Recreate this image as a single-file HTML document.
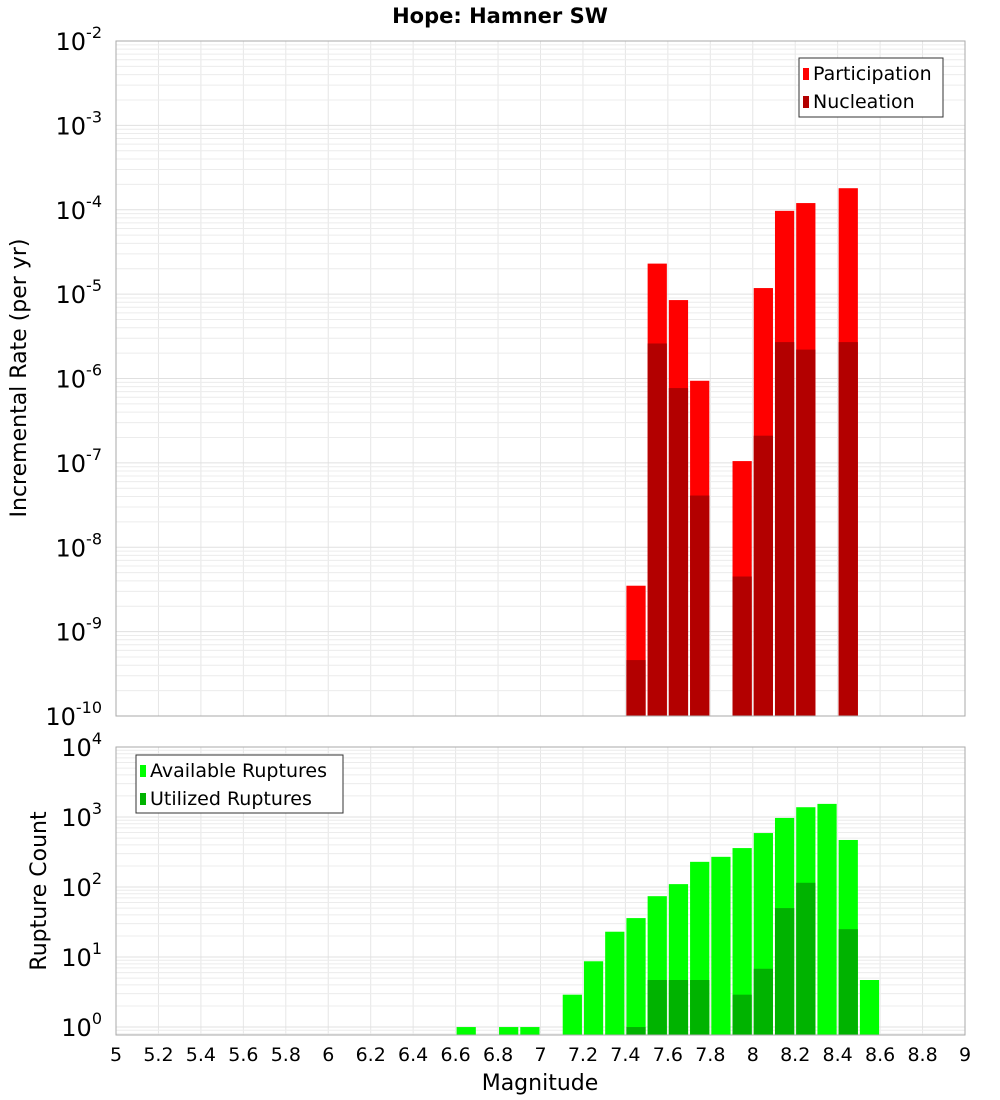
<!DOCTYPE html>
<html><head><meta charset="utf-8"><style>
body{margin:0;background:#fff;}
svg{display:block;font-family:"DejaVu Sans","Liberation Sans",sans-serif;}
</style></head><body>
<svg id="c" width="1000" height="1100" xmlns="http://www.w3.org/2000/svg">
<text x="500" y="23" text-anchor="middle" font-size="21" font-weight="bold">Hope: Hamner SW</text>
<g id="topPanel"></g>
<g id="botPanel"></g>
<text x="540" y="1090" text-anchor="middle" font-size="22">Magnitude</text>
<text transform="translate(26,378) rotate(-90)" text-anchor="middle" font-size="22">Incremental Rate (per yr)</text>
<text transform="translate(46,891) rotate(-90)" text-anchor="middle" font-size="22">Rupture Count</text>
</svg>
<script>
const xTicks=[5,5.2,5.4,5.6,5.8,6,6.2,6.4,6.6,6.8,7,7.2,7.4,7.6,7.8,8,8.2,8.4,8.6,8.8,9];
const rateMags=[7.45,7.55,7.65,7.75,7.95,8.05,8.15,8.25,8.45];
const participation=[3.5e-9,2.3e-5,8.5e-6,9.4e-7,1.05e-7,1.18e-5,9.7e-5,1.2e-4,1.8e-4];
const nucleation=[4.6e-10,2.6e-6,7.7e-7,4.1e-8,4.5e-9,2.1e-7,2.7e-6,2.2e-6,2.7e-6];
const countMags=[6.65,6.85,6.95,7.15,7.25,7.35,7.45,7.55,7.65,7.75,7.85,7.95,8.05,8.15,8.25,8.35,8.45,8.55];
const available=[1,1,1,2.9,8.7,23,36,74,110,229,270,360,590,970,1380,1540,470,4.7];
const utilized=[0,0,0,0,0,0,1,4.7,4.7,4.7,0,2.9,6.8,50,115,0,25,0];
const rateExps=[-2,-3,-4,-5,-6,-7,-8,-9,-10];
const countExps=[4,3,2,1,0];

const NS="http://www.w3.org/2000/svg";
function mk(p,t,a){const e=document.createElementNS(NS,t);for(const k in a)e.setAttribute(k,a[k]);p.appendChild(e);return e;}
const X0=116,X1=965;
const xs=m=>X0+(m-5)/4*(X1-X0);
function panel(g,pTop,pBot,yTop,yBot,exps,mags,s1,s2,c1,c2,pre){
  const L=Math.log10;
  const y=v=>pTop+(L(yTop)-L(v))/(L(yTop)-L(yBot))*(pBot-pTop);
  for(let i=0;i<=20;i++){const m=5+i*0.2;const l=mk(g,'line',{x1:xs(m),x2:xs(m),y1:pTop,y2:pBot,stroke:'#e6e6e6'});
    }
  for(let e=Math.floor(L(yBot));e<L(yTop);e++){for(let k=1;k<10;k++){const v=k*Math.pow(10,e);if(v<yBot||v>yTop)continue;
    const l=mk(g,'line',{x1:X0,x2:X1,y1:y(v),y2:y(v),stroke:k==1?'#e0e0e0':'#ececec'});
    }}
  mags.forEach((m,i)=>{[[s1,c1,'-a'],[s2,c2,'-b']].forEach(([s,c,n])=>{const v=s[i];if(!v||v<yBot)return;
    const r=mk(g,'rect',{x:xs(m-0.05)+1,width:xs(m+0.05)-xs(m-0.05)-2,y:y(v),height:pBot-y(v),fill:c});
    });});
  const b=mk(g,'rect',{x:X0,y:pTop,width:X1-X0,height:pBot-pTop,fill:'none',stroke:'#aaa'});
  
  exps.forEach(e=>{const yy=y(Math.pow(10,e));
    const t=mk(g,'text',{x:102,y:yy+9,'text-anchor':'end','font-size':24});
    
    t.textContent='10';const s=mk(t,'tspan',{dy:-12,'font-size':16});s.textContent=String(e);});
}
const topG=document.getElementById('topPanel'),botG=document.getElementById('botPanel');
panel(topG,41,716,1e-2,1e-10,rateExps,rateMags,participation,nucleation,'#ff0000','#b30000','rate');
panel(botG,747,1035,1e4,0.77,countExps,countMags,available,utilized,'#00ff00','#00b300','count');
xTicks.forEach(m=>{const t=mk(botG,'text',{x:xs(m),y:1061,'text-anchor':'middle','font-size':19});
  t.textContent=String(m);});
function legend(g,x,y,w,h,items){const lg=mk(g,'g',{});
  
  
  mk(lg,'rect',{x:x,y:y,width:w,height:h,fill:'#fff',stroke:'#333'});
  items.forEach(([c,l],i)=>{const e=mk(lg,'g',{});
    
    
    mk(e,'rect',{x:x+4,y:y+10+i*28,width:6,height:12,fill:c});
    const t=mk(e,'text',{x:x+14,y:y+22+i*28,'font-size':19});t.textContent=l;});}
legend(topG,799,58,144,59,[['#ff0000','Participation'],['#b30000','Nucleation']]);
legend(botG,136,755,207,58,[['#00ff00','Available Ruptures'],['#00b300','Utilized Ruptures']]);
</script>
</body></html>
